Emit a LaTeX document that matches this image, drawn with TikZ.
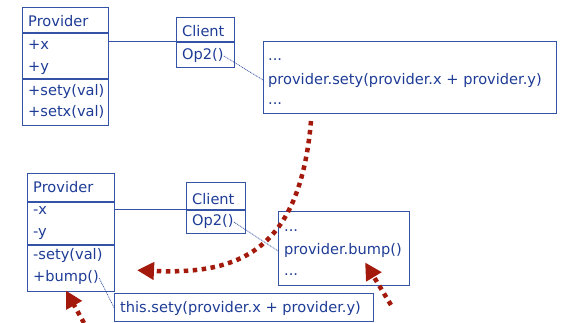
\documentclass[tikz,border=0pt]{standalone}
\usepackage{fontspec}
\setmainfont{DejaVu Sans}
\usetikzlibrary{arrows.meta}
\definecolor{umlblue}{HTML}{1E3C96}
\definecolor{linblue}{HTML}{3452A6}
\definecolor{arrowred}{HTML}{A31A0C}
\begin{document}
\begin{tikzpicture}[x=1pt,y=-1pt,
  box/.style={draw=linblue, line width=1.2pt, inner sep=0pt, anchor=north west},
  txt/.style={text=umlblue, anchor=base west, inner sep=0pt, font=\fontsize{14.6}{16}\selectfont},
  divider/.style={draw=linblue, line width=1.2pt},
  assoc/.style={draw=linblue, line width=1pt},
  notelink/.style={draw=umlblue, line width=0.6pt, dash pattern=on 1pt off 0.8pt},
  flow/.style={draw=arrowred, line width=4.5pt, dash pattern=on 4.5pt off 4.5pt,
    -{Triangle[length=17pt,width=17pt,sep=4pt]}}
]
\useasboundingbox (0,0) rectangle (563,323);

% ---------- top diagram ----------
\node[box, minimum width=86pt, minimum height=118pt] (prov1) at (22,7) {};
\node[txt] (p1name) at (28,27) {Provider};
\node[txt] (p1x) at (28,50) {+x};
\node[txt] (p1y) at (28,72) {+y};
\node[txt] (p1sety) at (28,96) {+sety(val)};
\node[txt] (p1setx) at (28,117) {+setx(val)};
\draw[divider] (prov1.west |- 0,33) -- (prov1.east |- 0,33);
\draw[divider] (prov1.west |- 0,79) -- (prov1.east |- 0,79);

\node[box, minimum width=58pt, minimum height=50pt] (client1) at (176,17) {};
\node[txt] (c1name) at (182,37) {Client};
\node[txt] (c1op) at (182,60) {Op2()};
\draw[divider] (client1.west |- 0,42) -- (client1.east |- 0,42);

\draw[assoc] (prov1.east |- 0,42) -- (client1.west |- 0,42);

\node[box, minimum width=293pt, minimum height=72pt] (code1) at (263,41) {};
\node[txt] (k1a) at (268,61) {...};
\node[txt] (k1b) at (268,85) {provider.sety(provider.x + provider.y)};
\node[txt] (k1c) at (268,105) {...};
\draw[notelink] (c1op.east) -- (code1.west |- 0,80);

% ---------- bottom diagram ----------
\node[box, minimum width=87pt, minimum height=118pt] (prov2) at (27,173) {};
\node[txt] (p2name) at (33,193) {Provider};
\node[txt] (p2x) at (33,215) {-x};
\node[txt] (p2y) at (33,237) {-y};
\node[txt] (p2sety) at (33,260) {-sety(val)};
\node[txt] (p2bump) at (33,282) {+bump()};
\draw[divider] (prov2.west |- 0,202) -- (prov2.east |- 0,202);
\draw[divider] (prov2.west |- 0,245) -- (prov2.east |- 0,245);

\node[box, minimum width=59pt, minimum height=51pt] (client2) at (186,182) {};
\node[txt] (c2name) at (192,205) {Client};
\node[txt] (c2op) at (192,226) {Op2()};
\draw[divider] (client2.west |- 0,210) -- (client2.east |- 0,210);

\draw[assoc] (prov2.east |- 0,210) -- (client2.west |- 0,210);

\node[box, minimum width=131pt, minimum height=74pt] (code2) at (278,211) {};
\node[txt] (k2a) at (284,232) {...};
\node[txt] (k2b) at (284,255) {provider.bump()};
\node[txt] (k2c) at (284,276) {...};
\draw[notelink] (c2op.east) -- (code2.west |- 0,251);

\node[box, minimum width=259pt, minimum height=28pt] (code3) at (114,293) {};
\node[txt] (k3) at (120,313) {this.sety(provider.x + provider.y)};
\draw[notelink] (p2bump.east) -- (code3.west);

% ---------- red flow arrows ----------
\coordinate (f1s) at (311,121);
\coordinate (f1e) at (133,270);
\draw[flow] (f1s) .. controls (300,250) and (240,275) .. (f1e);
\coordinate (f2s) at (391,305);
\coordinate (f2e) at (363,259);
\draw[flow] (f2s) -- (f2e);
\coordinate (f3s) at (84,323);
\coordinate (f3e) at (64,287);
\draw[flow] (f3s) -- (f3e);
\end{tikzpicture}
\end{document}
